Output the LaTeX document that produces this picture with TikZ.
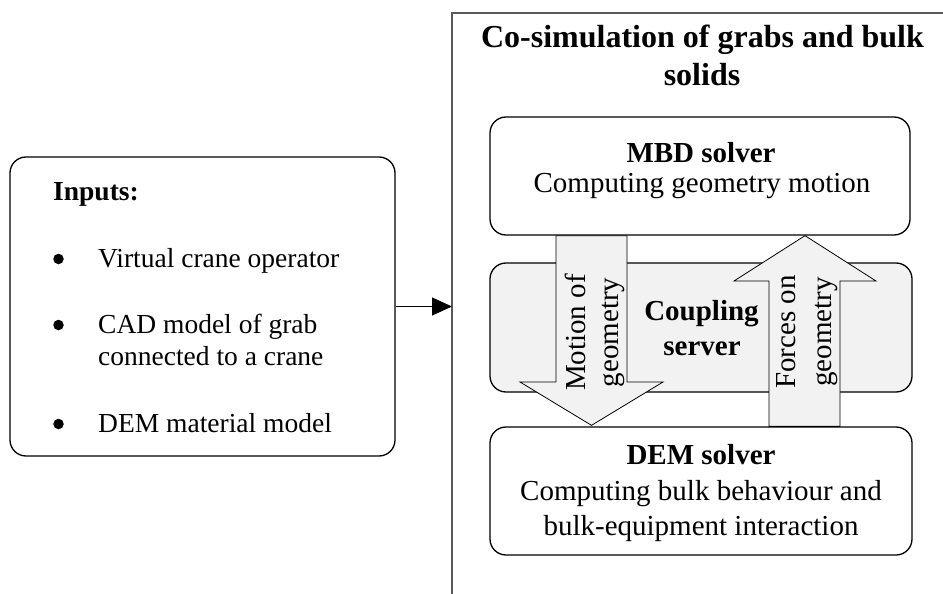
\documentclass[tikz,border=0pt]{standalone}
\usepackage{fontspec}
\setmainfont{Liberation Serif}
\usetikzlibrary{arrows.meta,calc}
\definecolor{fillgray}{HTML}{F2F2F2}
\definecolor{framegray}{HTML}{595959}
\begin{document}
\begin{tikzpicture}[x=1pt,y=-1pt,
  box/.style={draw, line width=1.3pt, rounded corners=16pt, inner sep=0pt},
  fat/.style={draw, line width=0.8pt, fill=fillgray, line join=miter},
  txt/.style={inner sep=0pt, anchor=base, font=\fontsize{29}{34}\selectfont},
  txtb/.style={inner sep=0pt, anchor=base, font=\fontsize{29}{34}\selectfont\bfseries},
  intxt/.style={inner sep=0pt, anchor=base west, font=\fontsize{27.5}{33}\selectfont},
  inbul/.style={circle, fill=black, inner sep=0pt, minimum size=10.5pt},
  titletxt/.style={inner sep=0pt, anchor=base, font=\fontsize{32}{37}\selectfont\bfseries},
  rot/.style={inner sep=0pt, anchor=base, rotate=90, font=\fontsize{29}{34}\selectfont},
  conn/.style={line width=1pt, -{Triangle[length=20pt,width=18pt]}}]
\useasboundingbox (0,0) rectangle (943,594);
% frame of co-simulation
\draw[framegray, line width=1.2pt] (943,13) -- (452,13) -- (452,594);
\coordinate (frameentry) at (452,307);
% boxes
\node[box, minimum width=385pt, minimum height=299pt] (inputs) at (202.5,306.5) {};
\node[box, minimum width=420pt, minimum height=118pt] (mbd) at (700,176) {};
\node[box, fill=fillgray, minimum width=422pt, minimum height=129pt] (coupling) at (701,327.5) {};
\node[box, minimum width=422pt, minimum height=128pt] (dem) at (701,491) {};
% fat arrows
\draw[fat] ($(mbd.south)+(-144,0)$) -- ($(mbd.south)+(-73,0)$) -- (627,382) -- (663,382)
  -- ($(dem.north)+(-109.5,-1)$) -- (520,382) -- (556,382) -- cycle;
\draw[fat] ($(dem.north)+(68,0)$) -- ($(dem.north)+(139,0)$) -- (840,281) -- (876,281)
  -- ($(mbd.south)+(105,0)$) -- (734,281) -- (769,281) -- cycle;
% title
\node[titletxt] (title1) at (702.5,48) {Co-simulation of grabs and bulk};
\node[titletxt] (title2) at (702,85) {solids};
% inputs text
\node[intxt, font=\fontsize{27.5}{33}\selectfont\bfseries] (inhead) at (53,200) {Inputs:};
\node[inbul] (b1) at (58.5,259) {};
\node[inbul] (b2) at (58.5,325) {};
\node[inbul] (b3) at (58.5,424) {};
\node[intxt] (i1) at (98,267) {Virtual crane operator};
\node[intxt] (i2) at (98,333) {CAD model of grab};
\node[intxt] (i3) at (98,365) {connected to a crane};
\node[intxt] (i4) at (98,432) {DEM material model};
% MBD text
\node[txtb] (mbdh) at (701,162) {MBD solver};
\node[txt] (mbdt) at (702,192) {Computing geometry motion};
% coupling text
\node[txtb] (cp1) at (701.5,320) {Coupling};
\node[txtb] (cp2) at (702,355) {server};
% DEM text
\node[txtb] (demh) at (701,464) {DEM solver};
\node[txt] (demt1) at (701,500) {Computing bulk behaviour and};
\node[txt] (demt2) at (701,535) {bulk-equipment interaction};
% arrow labels
\node[rot] (mo1) at (585,332.5) {Motion of};
\node[rot] (mo2) at (618.5,332.5) {geometry};
\node[rot] (fo1) at (795,332) {Forces on};
\node[rot] (fo2) at (831,332) {geometry};
% connector
\draw[conn] (inputs.east) -- (inputs.east -| frameentry);
\end{tikzpicture}
\end{document}
